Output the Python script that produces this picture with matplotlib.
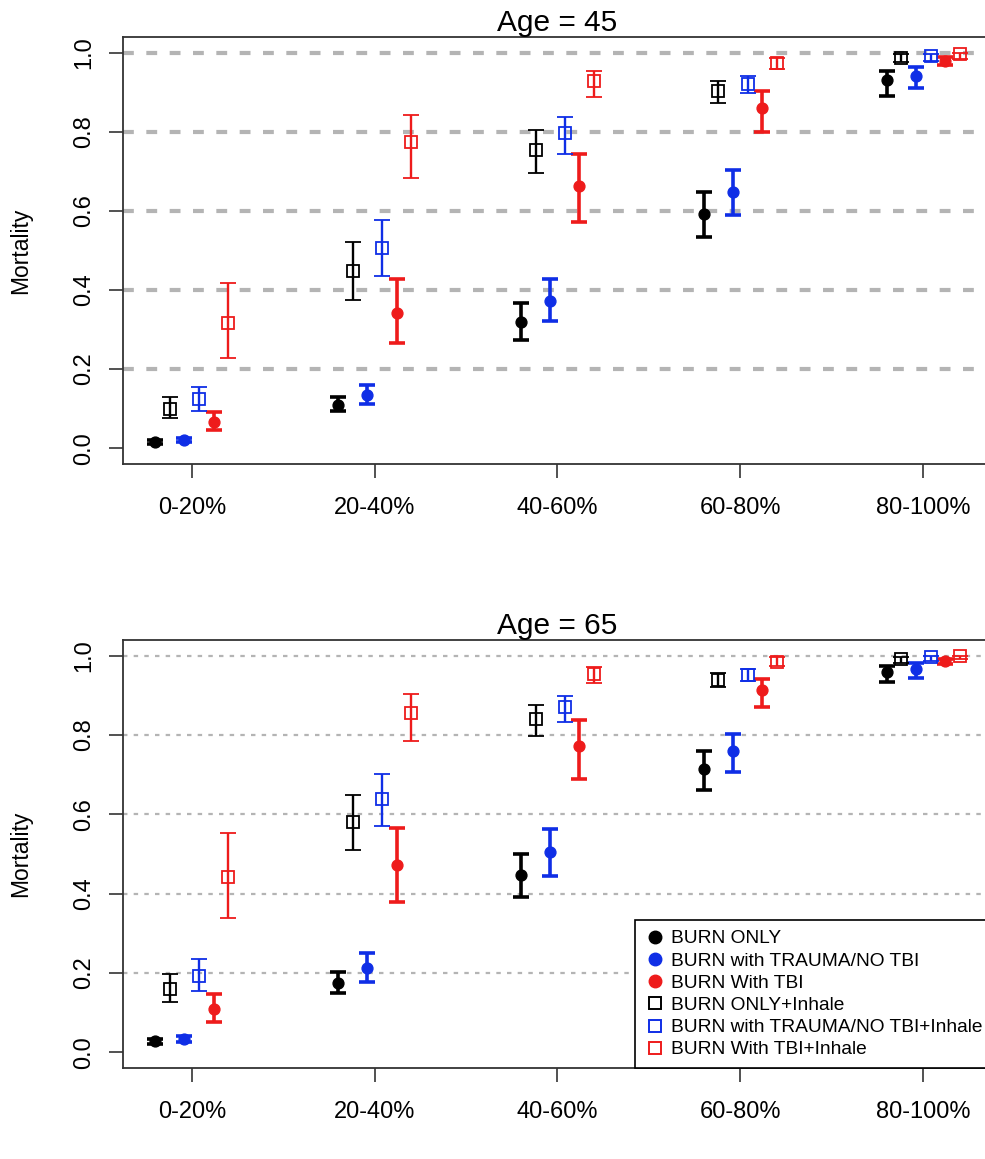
import matplotlib
matplotlib.use("Agg")
import matplotlib.pyplot as plt
from matplotlib.lines import Line2D
import numpy as np

plt.rcParams['font.family'] = ['Liberation Sans', 'DejaVu Sans']

groups = ['0-20%', '20-40%', '40-60%', '60-80%', '80-100%']
labels = ['BURN ONLY', 'BURN with TRAUMA/NO TBI', 'BURN With TBI',
          'BURN ONLY+Inhale', 'BURN with TRAUMA/NO TBI+Inhale', 'BURN With TBI+Inhale']

# Age = 45
burn_only_45 = [0.016, 0.109, 0.319, 0.593, 0.932]
burn_only_45_lo = [0.011, 0.093, 0.274, 0.535, 0.892]
burn_only_45_hi = [0.021, 0.130, 0.366, 0.647, 0.955]
trauma_45 = [0.021, 0.135, 0.372, 0.648, 0.942]
trauma_45_lo = [0.016, 0.113, 0.321, 0.589, 0.911]
trauma_45_hi = [0.026, 0.160, 0.427, 0.704, 0.965]
tbi_45 = [0.065, 0.343, 0.662, 0.860, 0.980]
tbi_45_lo = [0.045, 0.265, 0.571, 0.800, 0.970]
tbi_45_hi = [0.092, 0.427, 0.745, 0.904, 0.990]
burn_only_inh_45 = [0.098, 0.448, 0.755, 0.904, 0.987]
burn_only_inh_45_lo = [0.076, 0.376, 0.696, 0.874, 0.977]
burn_only_inh_45_hi = [0.130, 0.522, 0.806, 0.929, 0.997]
trauma_inh_45 = [0.124, 0.507, 0.797, 0.921, 0.991]
trauma_inh_45_lo = [0.094, 0.435, 0.745, 0.898, 0.980]
trauma_inh_45_hi = [0.156, 0.578, 0.838, 0.942, 0.998]
tbi_inh_45 = [0.316, 0.774, 0.928, 0.974, 0.997]
tbi_inh_45_lo = [0.228, 0.683, 0.888, 0.960, 0.985]
tbi_inh_45_hi = [0.418, 0.843, 0.955, 0.987, 1.000]

# Age = 65
burn_only_65 = [0.027, 0.175, 0.446, 0.714, 0.959]
burn_only_65_lo = [0.021, 0.149, 0.392, 0.661, 0.934]
burn_only_65_hi = [0.034, 0.203, 0.500, 0.760, 0.974]
trauma_65 = [0.033, 0.213, 0.504, 0.760, 0.968]
trauma_65_lo = [0.026, 0.178, 0.444, 0.707, 0.944]
trauma_65_hi = [0.040, 0.250, 0.564, 0.804, 0.982]
tbi_65 = [0.108, 0.472, 0.772, 0.913, 0.987]
tbi_65_lo = [0.077, 0.378, 0.690, 0.871, 0.980]
tbi_65_hi = [0.146, 0.565, 0.838, 0.941, 0.992]
burn_only_inh_65 = [0.159, 0.581, 0.840, 0.940, 0.991]
burn_only_inh_65_lo = [0.126, 0.510, 0.797, 0.922, 0.983]
burn_only_inh_65_hi = [0.197, 0.650, 0.876, 0.957, 0.997]
trauma_inh_65 = [0.192, 0.638, 0.870, 0.951, 0.996]
trauma_inh_65_lo = [0.155, 0.570, 0.832, 0.937, 0.987]
trauma_inh_65_hi = [0.235, 0.702, 0.899, 0.966, 0.999]
tbi_inh_65 = [0.443, 0.855, 0.954, 0.985, 0.999]
tbi_inh_65_lo = [0.338, 0.785, 0.932, 0.974, 0.992]
tbi_inh_65_hi = [0.552, 0.903, 0.972, 0.996, 1.000]

panels = [
    ("Age = 45", [
        (burn_only_45, burn_only_45_lo, burn_only_45_hi),
        (trauma_45, trauma_45_lo, trauma_45_hi),
        (tbi_45, tbi_45_lo, tbi_45_hi),
        (burn_only_inh_45, burn_only_inh_45_lo, burn_only_inh_45_hi),
        (trauma_inh_45, trauma_inh_45_lo, trauma_inh_45_hi),
        (tbi_inh_45, tbi_inh_45_lo, tbi_inh_45_hi)]),
    ("Age = 65", [
        (burn_only_65, burn_only_65_lo, burn_only_65_hi),
        (trauma_65, trauma_65_lo, trauma_65_hi),
        (tbi_65, tbi_65_lo, tbi_65_hi),
        (burn_only_inh_65, burn_only_inh_65_lo, burn_only_inh_65_hi),
        (trauma_inh_65, trauma_inh_65_lo, trauma_inh_65_hi),
        (tbi_inh_65, tbi_inh_65_lo, tbi_inh_65_hi)]),
]

BLUE = '#0f2ee6'
RED = '#ee1b1b'
colors = ['black', BLUE, RED, 'black', BLUE, RED]
filled = [True, True, True, False, False, False]
offsets = [-0.2, -0.04, 0.12, -0.12, 0.04, 0.2]

W, H = 985, 1159
fig = plt.figure(figsize=(W / 100, H / 100), dpi=100)
left = 123 / W
right = 992 / W
ax_rects = [(left, 1 - 464 / H, right - left, 427 / H),
            (left, 1 - 1068 / H, right - left, 428 / H)]
grid_styles = [dict(lw=3.0, dashes=(2.6, 3.0)), dict(lw=1.6, dashes=(2.0, 2.8))]

x = np.arange(1, len(groups) + 1)
for p, (title, series) in enumerate(panels):
    ax = fig.add_axes(ax_rects[p])
    for gy in [0.2, 0.4, 0.6, 0.8, 1.0]:
        ax.axhline(gy, color='#b4b4b4', zorder=1, **grid_styles[p])
    for i, (v, lo, hi) in enumerate(series):
        v = np.array(v); lo = np.array(lo); hi = np.array(hi)
        yerr = np.vstack([v - lo, hi - v])
        if filled[i]:
            ax.errorbar(x + offsets[i], v, yerr=yerr, fmt='o', color=colors[i],
                        ms=7.8, mec=colors[i], mfc=colors[i], elinewidth=2.6,
                        capsize=5.8, capthick=2.6, zorder=3)
        else:
            ax.errorbar(x + offsets[i], v, yerr=yerr, fmt='s', color=colors[i],
                        ms=8.5, mec=colors[i], mfc='none', mew=1.3, elinewidth=1.7,
                        capsize=5.8, capthick=1.7, zorder=3)
    ax.set_xlim(0.624, 5.376)
    ax.set_ylim(-0.04, 1.04)
    ax.set_xticks(x)
    ax.set_xticklabels(groups, fontsize=17)
    ax.set_yticks([0.0, 0.2, 0.4, 0.6, 0.8, 1.0])
    ax.set_yticklabels(['0.0', '0.2', '0.4', '0.6', '0.8', '1.0'], fontsize=17,
                       rotation=90, va='center')
    ax.tick_params(axis='both', length=10, width=1.2, color='#333333', pad=10)
    ax.tick_params(axis='x', pad=14)
    for s in ax.spines.values():
        s.set_linewidth(1.3)
        s.set_color('#333333')
    ax.set_ylabel('Mortality', fontsize=16.5)
    ax.yaxis.set_label_coords(-0.104, 0.5)
    ax.set_title(title, fontsize=21.5, pad=3)
    if p == 1:
        handles = []
        for i in range(6):
            if filled[i]:
                h = Line2D([], [], ls='none', marker='o', ms=9, color=colors[i])
            else:
                h = Line2D([], [], ls='none', marker='s', ms=8, mec=colors[i],
                           mfc='none', mew=1.4)
            handles.append(h)
        leg = ax.legend(handles, labels, loc='lower right', bbox_to_anchor=(1.0, 0.0),
                        borderaxespad=0, fontsize=13.8, frameon=True, fancybox=False,
                        edgecolor='black', framealpha=1, handletextpad=0.3,
                        handlelength=1.1, labelspacing=0.25, borderpad=0.5)
        leg.get_frame().set_linewidth(1.2)
        leg.set_zorder(5)

fig.savefig('out.png', dpi=100)
